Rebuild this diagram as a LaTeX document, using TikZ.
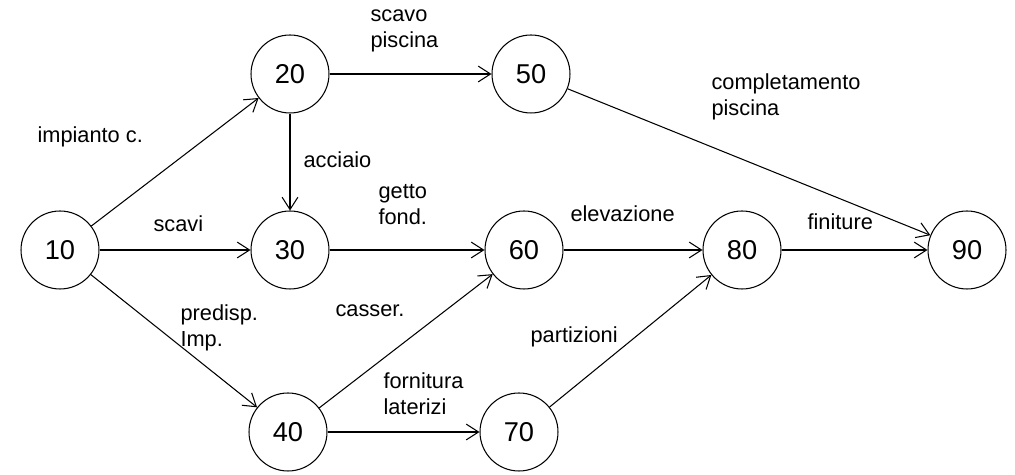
\documentclass[tikz,border=0pt]{standalone}
\usepackage{fontspec}
\setmainfont{Liberation Sans}
\usetikzlibrary{arrows.meta}

\begin{document}
\begin{tikzpicture}[x=0.02cm,y=-0.02cm,line width=0.6pt,
  event/.style={circle,draw,minimum size=1.56cm,inner sep=0pt,font=\fontsize{15.5}{18}\selectfont},
  act/.style={-{Straight Barb[length=7pt,width=9pt]}},
  lab/.style={anchor=base west,align=left,inner sep=0pt,font=\fontsize{12.4}{15}\selectfont}]
  \useasboundingbox (0,0) rectangle (1015,475);
  % events
  \node[event] (n10) at (60,250) {10};
  \node[event] (n20) at (290,74) {20};
  \node[event] (n30) at (290,250) {30};
  \node[event] (n40) at (288,432) {40};
  \node[event] (n50) at (531,74) {50};
  \node[event] (n60) at (524,250) {60};
  \node[event] (n70) at (519,432) {70};
  \node[event] (n80) at (742,250) {80};
  \node[event] (n90) at (967,250) {90};
  % activities
  \foreach \a/\b in {n10/n20,n10/n30,n10/n40,n20/n50,n20/n30,n30/n60,
        n40/n60,n40/n70,n50/n90,n60/n80,n70/n80,n80/n90}
    \draw[act] (\a)--(\b);
  % activity labels (base of last line)
  \foreach \x/\y/\name/\txt in {370/48/lscavo/{scavo\\piscina},
        711/116/lcompl/{completamento\\piscina}, 37/143/limp/{impianto c.},
        303/168/lacc/{acciaio}, 153/232/lscavi/{scavi}, 378/225/lgetto/{getto\\fond.},
        570/222/lelev/{elevazione}, 807/230/lfin/{finiture}, 180/347/lpred/{predisp.\\Imp.},
        335/317/lcass/{casser.}, 530/343/lpart/{partizioni}, 383/415/lforn/{fornitura\\laterizi}}
    \node[lab] (\name) at (\x,\y) {\txt};
\end{tikzpicture}
\end{document}
